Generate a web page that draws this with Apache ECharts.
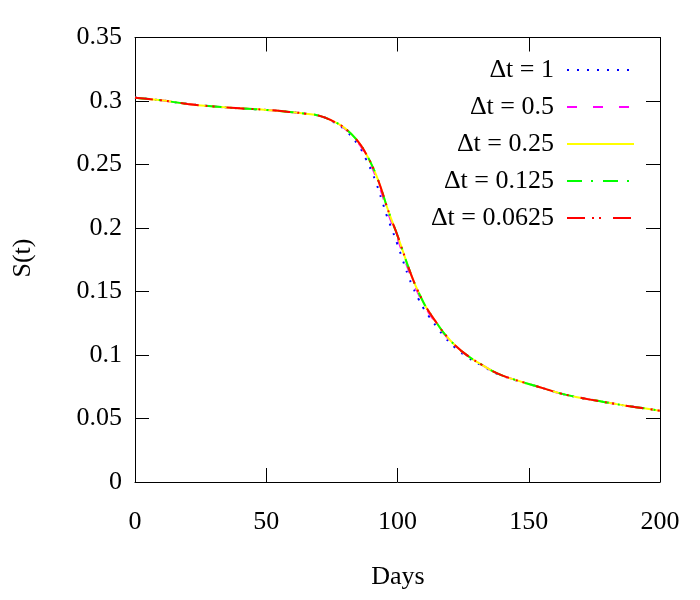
<!DOCTYPE html>
<html>
<head>
<meta charset="utf-8">
<script src="https://cdn.jsdelivr.net/npm/echarts@6/dist/echarts.min.js"></script>
<style>
html,body{margin:0;padding:0;background:#fff;}
#chart{width:700px;height:600px;}
</style>
</head>
<body>
<div id="chart"></div>
<script>
const seriesNames = ['Δt = 1', 'Δt = 0.5', 'Δt = 0.25', 'Δt = 0.125', 'Δt = 0.0625'];
const days = [0,10,20,30,40,50,60,65,70,75,80,85,88,90,92,94,96,98,100,102,104,106,108,110,112,115,118,122,127,132,138,144,150,156,162,168,175,181,187,194,200];
const sDt1 = [0.3026,0.3005,0.2977,0.2957,0.2942,0.2930,0.2912,0.2900,0.2884,0.2841,0.2772,0.2653,0.2542,0.2452,0.2348,0.2222,0.2092,0.1983,0.1870,0.1748,0.1630,0.1529,0.1441,0.1365,0.1304,0.1220,0.1140,0.1057,0.0978,0.0918,0.0852,0.0808,0.0771,0.0735,0.0698,0.0670,0.0643,0.0622,0.0601,0.0580,0.0561];
const sDt05 = [0.3026,0.3005,0.2977,0.2957,0.2942,0.2930,0.2912,0.2900,0.2885,0.2844,0.2781,0.2672,0.2572,0.2490,0.2392,0.2274,0.2144,0.2030,0.1919,0.1798,0.1679,0.1572,0.1480,0.1398,0.1330,0.1243,0.1160,0.1072,0.0988,0.0924,0.0855,0.0810,0.0772,0.0735,0.0698,0.0670,0.0643,0.0622,0.0601,0.0580,0.0561];
const sDt025 = [0.3026,0.3005,0.2977,0.2957,0.2942,0.2930,0.2912,0.2900,0.2885,0.2845,0.2785,0.2680,0.2585,0.2505,0.2410,0.2295,0.2165,0.2050,0.1940,0.1820,0.1700,0.1590,0.1495,0.1410,0.1340,0.1250,0.1165,0.1075,0.0990,0.0925,0.0855,0.0810,0.0772,0.0735,0.0698,0.0670,0.0643,0.0622,0.0601,0.0580,0.0561];
const sDt0125 = [0.3026,0.3005,0.2977,0.2957,0.2942,0.2930,0.2912,0.2900,0.2885,0.2845,0.2785,0.2680,0.2585,0.2505,0.2410,0.2295,0.2165,0.2050,0.1940,0.1820,0.1700,0.1590,0.1495,0.1410,0.1340,0.1250,0.1165,0.1075,0.0990,0.0925,0.0855,0.0810,0.0772,0.0735,0.0698,0.0670,0.0643,0.0622,0.0601,0.0580,0.0561];
const sDt00625 = [0.3026,0.3005,0.2977,0.2957,0.2942,0.2930,0.2912,0.2900,0.2885,0.2845,0.2785,0.2680,0.2585,0.2505,0.2410,0.2295,0.2165,0.2050,0.1940,0.1820,0.1700,0.1590,0.1495,0.1410,0.1340,0.1250,0.1165,0.1075,0.0990,0.0925,0.0855,0.0810,0.0772,0.0735,0.0698,0.0670,0.0643,0.0622,0.0601,0.0580,0.0561];
const xTicks = [0, 50, 100, 150, 200];
const yTicks = [0, 0.05, 0.1, 0.15, 0.2, 0.25, 0.3, 0.35];

const values = [sDt1, sDt05, sDt025, sDt0125, sDt00625];
const colors = ['#0000ff', '#ff00ff', '#ffff00', '#00ff00', '#ff0000'];
const dashes = [[2, 8], [10, 16], 'solid', [15, 9, 2, 10], [18, 7, 2, 5, 2, 12]];
const FONT = 'Liberation Serif';

const chart = echarts.init(document.getElementById('chart'));
const axisCommon = {
  type: 'value',
  axisLine: { show: true, onZero: false, lineStyle: { color: '#000', width: 1 } },
  axisTick: { show: true, inside: true, length: 14, lineStyle: { color: '#000', width: 1 } },
  splitLine: { show: false }
};
chart.setOption({
  animation: false,
  backgroundColor: '#fff',
  grid: { left: 135, right: 40, top: 37.5, bottom: 118, containLabel: false },
  xAxis: [
    Object.assign({}, axisCommon, {
      position: 'bottom', min: xTicks[0], max: xTicks[xTicks.length - 1], interval: 50,
      axisLabel: { show: true, margin: 27, fontFamily: FONT, fontSize: 26, color: '#000' }
    }),
    Object.assign({}, axisCommon, {
      position: 'top', min: xTicks[0], max: xTicks[xTicks.length - 1], interval: 50,
      axisLabel: { show: false }
    })
  ],
  yAxis: [
    Object.assign({}, axisCommon, {
      position: 'left', min: yTicks[0], max: yTicks[yTicks.length - 1], interval: 0.05,
      axisLabel: { show: true, margin: 13, fontFamily: FONT, fontSize: 26, color: '#000' }
    }),
    Object.assign({}, axisCommon, {
      position: 'right', min: yTicks[0], max: yTicks[yTicks.length - 1], interval: 0.05,
      axisLabel: { show: false }
    })
  ],
  legend: {
    orient: 'vertical',
    align: 'right',
    right: 65,
    top: 57,
    padding: 0,
    itemWidth: 67,
    itemHeight: 14,
    itemGap: 11,
    selectedMode: false,
    itemStyle: { opacity: 0 },
    textStyle: { fontFamily: FONT, fontSize: 26, color: '#000', lineHeight: 26, padding: [0, 8, 0, 0] },
    data: seriesNames
  },
  graphic: [
    { type: 'text', x: 398, y: 577, style: { text: 'Days', font: '26px "Liberation Serif"', fill: '#000', align: 'center', verticalAlign: 'middle' } },
    { type: 'text', x: 23, y: 258, rotation: Math.PI / 2, style: { text: 'S(t)', font: '26px "Liberation Serif"', fill: '#000', align: 'center', verticalAlign: 'middle' } }
  ],
  series: seriesNames.map((name, i) => ({
    name: name,
    type: 'line',
    xAxisIndex: 0,
    yAxisIndex: 0,
    symbol: 'none',
    smooth: true,
    color: colors[i],
    lineStyle: { color: colors[i], width: 2, type: dashes[i] },
    data: days.map((d, j) => [d, values[i][j]]),
    z: 2 + i
  }))
});
</script>
</body>
</html>
